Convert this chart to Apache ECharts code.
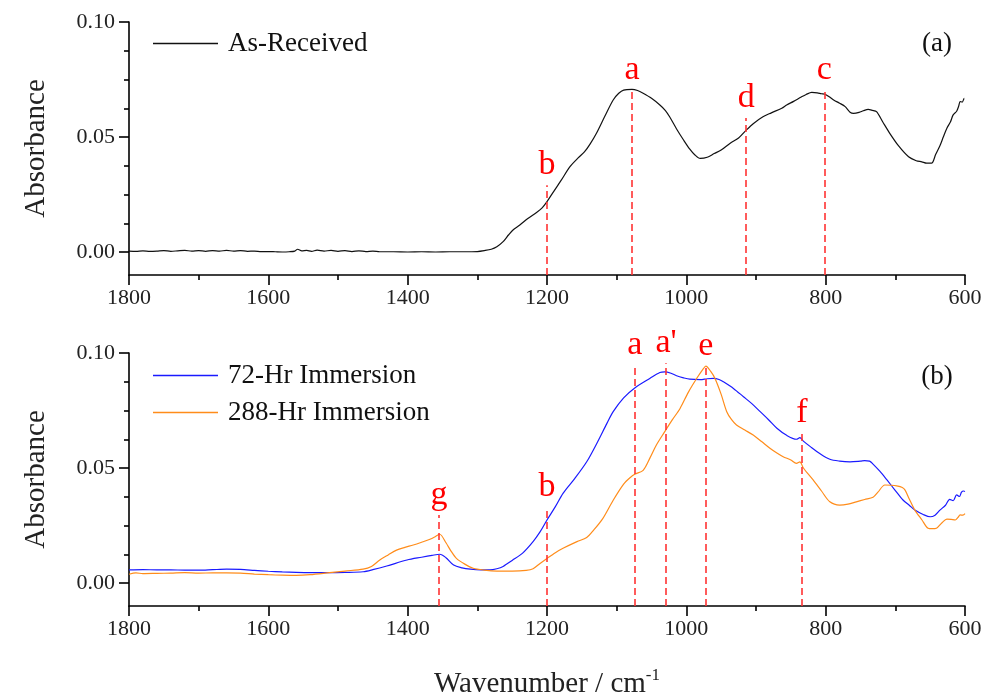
<!DOCTYPE html>
<html>
<head>
<meta charset="utf-8">
<script src="https://cdn.jsdelivr.net/npm/echarts@6/dist/echarts.min.js"></script>
<style>
html,body{margin:0;padding:0;background:#fff;}
#chart{width:983px;height:696px;}
</style>
</head>
<body>
<div id="chart"></div>
<script>
// ---------- DATA ----------
const xTicks = [1800, 1600, 1400, 1200, 1000, 800, 600];
const yTickLabels = [0.00, 0.05, 0.10];
const yMinorTicks = [0.0125, 0.025, 0.0375, 0.0625, 0.075, 0.0875];

const asReceived = [
[1800,0.0004],[1790,0.0003],[1780,0.0005],[1770,0.0003],[1760,0.0004],[1750,0.0006],[1740,0.0003],[1730,0.0005],[1720,0.0007],[1710,0.0004],[1700,0.0006],[1690,0.0003],[1680,0.0006],[1670,0.0004],[1660,0.0007],[1650,0.0004],[1640,0.0006],[1630,0.0003],[1620,0.0004],[1610,0.0002],[1600,0.0002],[1590,0.0001],[1580,0.0000],[1570,0.0001],[1562,0.0004],[1558,0.0012],[1552,0.0005],[1545,0.0007],[1538,0.0003],[1530,0.0008],[1520,0.0004],[1510,0.0007],[1500,0.0003],[1490,0.0006],[1480,0.0002],[1470,0.0005],[1460,0.0002],[1450,0.0004],[1440,0.0001],[1420,0.0001],[1400,0.0000],[1380,0.0001],[1360,0.0000],[1340,0.0001],[1320,0.0001],[1300,0.0002],[1290,0.0006],[1280,0.0012],[1272,0.0023],[1263,0.0045],[1255,0.0075],[1248,0.0098],[1239,0.0117],[1228,0.0145],[1215,0.0172],[1207,0.0192],[1200,0.0219],[1190,0.0265],[1180,0.031],[1167,0.0371],[1155,0.041],[1146,0.0436],[1138,0.047],[1129,0.0516],[1117,0.059],[1105,0.0661],[1097,0.069],[1090,0.0704],[1078,0.0707],[1070,0.0702],[1062,0.069],[1050,0.0668],[1038,0.0639],[1030,0.0615],[1024,0.0588],[1014,0.0535],[1004,0.0487],[995,0.0447],[988,0.0423],[980,0.0407],[970,0.0412],[960,0.0428],[950,0.0443],[937,0.0473],[925,0.0496],[914,0.053],[904,0.0558],[890,0.0588],[878,0.0605],[863,0.0625],[856,0.0639],[846,0.0655],[835,0.0674],[828,0.0685],[820,0.0694],[812,0.0692],[806,0.0688],[801,0.0686],[795,0.0675],[788,0.066],[780,0.0647],[772,0.0632],[765,0.0608],[760,0.0603],[752,0.0607],[746,0.0614],[739,0.062],[733,0.0616],[727,0.061],[718,0.0565],[708,0.0516],[695,0.046],[681,0.0414],[670,0.0397],[662,0.0392],[655,0.0386],[648,0.0386],[642,0.0425],[636,0.0462],[631,0.0501],[626,0.0538],[621,0.0565],[617,0.0596],[612,0.0612],[609,0.0635],[607,0.0654],[604,0.0652],[601,0.0668],[600,0.0668]
];

const hr72 = [
[1800,0.0057],[1780,0.0058],[1760,0.0057],[1740,0.0057],[1720,0.0056],[1700,0.0056],[1680,0.0058],[1660,0.006],[1640,0.0059],[1620,0.0055],[1600,0.0051],[1580,0.0048],[1560,0.0046],[1540,0.0045],[1512,0.0045],[1490,0.0046],[1464,0.0049],[1450,0.0058],[1430,0.0074],[1401,0.01],[1380,0.0112],[1365,0.012],[1354,0.0125],[1345,0.011],[1334,0.0078],[1322,0.0066],[1310,0.006],[1295,0.0057],[1282,0.0057],[1272,0.0062],[1263,0.0072],[1250,0.0098],[1235,0.013],[1220,0.018],[1210,0.0222],[1200,0.0274],[1188,0.0332],[1177,0.039],[1160,0.0455],[1143,0.0527],[1128,0.061],[1114,0.0694],[1105,0.0745],[1090,0.0805],[1074,0.0848],[1052,0.089],[1038,0.0915],[1031,0.0918],[1022,0.0912],[1014,0.0901],[1004,0.0892],[995,0.0886],[980,0.0884],[970,0.0888],[961,0.089],[953,0.0885],[947,0.0875],[932,0.0845],[918,0.081],[906,0.078],[894,0.0745],[882,0.071],[870,0.0673],[856,0.0642],[842,0.0625],[837,0.0632],[832,0.0617],[822,0.0593],[808,0.0562],[794,0.0538],[780,0.053],[765,0.0527],[750,0.053],[744,0.0532],[737,0.053],[732,0.0517],[722,0.0485],[712,0.0448],[700,0.0402],[689,0.0361],[680,0.0338],[672,0.0317],[660,0.0298],[650,0.0288],[643,0.0295],[636,0.0317],[628,0.0338],[622,0.0364],[617,0.0358],[612,0.0383],[608,0.0376],[605,0.0395],[602,0.04],[600,0.0398]
];

const hr288 = [
[1800,0.0038],[1790,0.0044],[1780,0.0041],[1760,0.0042],[1740,0.0043],[1720,0.0045],[1700,0.0043],[1680,0.0044],[1660,0.0044],[1640,0.0043],[1620,0.0039],[1600,0.0036],[1580,0.0034],[1560,0.0033],[1540,0.0036],[1512,0.0045],[1490,0.0052],[1464,0.006],[1452,0.0072],[1440,0.01],[1428,0.0122],[1416,0.0143],[1404,0.0155],[1392,0.0165],[1380,0.0177],[1368,0.019],[1360,0.0202],[1354,0.0212],[1345,0.0175],[1338,0.014],[1330,0.0107],[1318,0.0082],[1306,0.0064],[1290,0.0056],[1272,0.0052],[1250,0.0052],[1230,0.0055],[1220,0.0062],[1210,0.0085],[1200,0.0107],[1188,0.0132],[1177,0.0151],[1157,0.018],[1143,0.0198],[1133,0.023],[1120,0.028],[1105,0.036],[1090,0.043],[1080,0.046],[1074,0.0473],[1062,0.049],[1052,0.0545],[1043,0.06],[1031,0.0658],[1020,0.071],[1009,0.0759],[997,0.083],[985,0.089],[976,0.093],[972,0.0943],[965,0.092],[959,0.089],[950,0.082],[942,0.0745],[935,0.071],[928,0.0687],[916,0.0665],[904,0.0643],[892,0.0615],[880,0.0586],[870,0.0565],[861,0.0549],[850,0.0535],[842,0.052],[837,0.0527],[832,0.05],[818,0.0448],[806,0.04],[794,0.0353],[780,0.0339],[768,0.0343],[756,0.0353],[744,0.0363],[732,0.0373],[725,0.0395],[715,0.0426],[706,0.0425],[698,0.0422],[690,0.0415],[686,0.0404],[680,0.0365],[672,0.0317],[662,0.0275],[653,0.0238],[647,0.0236],[641,0.0238],[633,0.0262],[626,0.0278],[620,0.0277],[614,0.0274],[610,0.0285],[607,0.0296],[603,0.0295],[600,0.0302]
];

// marker lines: label, wavenumber, upper absorbance end
const markersA = [
  ['b', 1200, 0.029],
  ['a', 1078, 0.0705],
  ['d', 914, 0.0583],
  ['c', 802, 0.0705]
];
const markersB = [
  ['g', 1355, 0.0296],
  ['b', 1200, 0.033],
  ['a', 1074, 0.0948],
  ["a'", 1029, 0.0955],
  ['e', 972, 0.0945],
  ['f', 834, 0.0652]
];
const seriesNames = ['As-Received', '72-Hr Immersion', '288-Hr Immersion'];
const panelLabels = ['(a)', '(b)'];

// ---------- CHART ----------
const FONT = 'Liberation Serif';
const chart = echarts.init(document.getElementById('chart'), null, {renderer: 'canvas'});

function xAxisDef(idx, withName) {
  const ax = {
    type: 'value', gridIndex: idx, min: 600, max: 1800, interval: 200, inverse: true,
    axisLine: {show: true, onZero: false, lineStyle: {color: '#000', width: 1.6}},
    axisTick: {show: true, length: 10, lineStyle: {color: '#000', width: 1.6}},
    minorTick: {show: true, splitNumber: 2, length: 5, lineStyle: {color: '#000', width: 1.6}},
    splitLine: {show: false}, minorSplitLine: {show: false},
    axisLabel: {fontFamily: FONT, fontSize: 22, color: '#222', margin: 12,
      customValues: xTicks, formatter: v => String(v)}
  };
  if (withName) {
    ax.name = '{w|Wavenumber / cm}{s|-1}';
    ax.nameLocation = 'middle';
    ax.nameGap = 61;
    ax.nameTextStyle = {
      rich: {
        w: {fontFamily: FONT, fontSize: 29, color: '#222', lineHeight: 32, verticalAlign: 'bottom'},
        s: {fontFamily: FONT, fontSize: 17, color: '#222', lineHeight: 20, verticalAlign: 'top'}
      }
    };
  }
  return ax;
}
function yAxisMain(idx) {
  return {
    type: 'value', gridIndex: idx, min: -0.01, max: 0.10, position: 'left',
    name: 'Absorbance', nameLocation: 'middle', nameGap: 78,
    nameTextStyle: {fontFamily: FONT, fontSize: 29, color: '#222'},
    axisLine: {show: true, onZero: false, lineStyle: {color: '#000', width: 1.6}},
    axisTick: {show: true, length: 10, customValues: yTickLabels, lineStyle: {color: '#000', width: 1.6}},
    axisLabel: {fontFamily: FONT, fontSize: 22, color: '#222', margin: 14,
      customValues: yTickLabels, formatter: v => v.toFixed(2)},
    splitLine: {show: false}
  };
}
function yAxisMinor(idx) {
  return {
    type: 'value', gridIndex: idx, min: -0.01, max: 0.10, position: 'left',
    axisLine: {show: false},
    axisTick: {show: true, length: 5, customValues: yMinorTicks, lineStyle: {color: '#000', width: 1.6}},
    axisLabel: {show: false, customValues: yMinorTicks},
    splitLine: {show: false}
  };
}
function markLineFor(markers) {
  return {
    silent: true, symbol: ['none', 'none'], animation: false,
    lineStyle: {color: '#ff3333', type: [7, 4], width: 1.6},
    label: {show: true, position: 'end', distance: 3, formatter: p => p.name,
      color: '#ff0000', fontFamily: FONT, fontSize: 34},
    emphasis: {disabled: true},
    data: markers.map(m => [{name: m[0], coord: [m[1], -0.01]}, {coord: [m[1], m[2]]}])
  };
}
function legendDef(names, top) {
  return {
    data: names.map(n => ({name: n, icon: 'rect'})),
    orient: 'vertical', left: 148, top: top, itemWidth: 65, itemHeight: 1.3,
    itemGap: 10, selectedMode: false,
    textStyle: {fontFamily: FONT, fontSize: 27, color: '#111', lineHeight: 25, padding: [0, 0, 0, 5]}
  };
}

const option = {
  animation: false,
  backgroundColor: '#fff',
  grid: [
    {left: 129, right: 18, top: 22, height: 253, outerBoundsMode: 'none', containLabel: false},
    {left: 129, right: 18, top: 353, height: 253, outerBoundsMode: 'none', containLabel: false}
  ],
  xAxis: [xAxisDef(0, false), xAxisDef(1, true)],
  yAxis: [yAxisMain(0), yAxisMinor(0), yAxisMain(1), yAxisMinor(1)],
  legend: [legendDef([seriesNames[0]], 25), legendDef([seriesNames[1], seriesNames[2]], 357)],
  graphic: [
    {type: 'text', x: 937, y: 44, style: {text: panelLabels[0], fontFamily: FONT, fontSize: 27, fill: '#111', align: 'center', verticalAlign: 'middle'}},
    {type: 'text', x: 937, y: 377, style: {text: panelLabels[1], fontFamily: FONT, fontSize: 27, fill: '#111', align: 'center', verticalAlign: 'middle'}}
  ],
  series: [
    {name: seriesNames[0], type: 'line', xAxisIndex: 0, yAxisIndex: 0, data: asReceived,
      symbol: 'none', smooth: 0.3, lineStyle: {color: '#111', width: 1.2}, itemStyle: {color: '#111'},
      markLine: markLineFor(markersA), z: 3},
    {name: seriesNames[1], type: 'line', xAxisIndex: 1, yAxisIndex: 2, data: hr72,
      symbol: 'none', smooth: 0.3, lineStyle: {color: '#1a1aff', width: 1.2}, itemStyle: {color: '#1a1aff'},
      markLine: markLineFor(markersB), z: 3},
    {name: seriesNames[2], type: 'line', xAxisIndex: 1, yAxisIndex: 2, data: hr288,
      symbol: 'none', smooth: 0.3, lineStyle: {color: '#ff8c1a', width: 1.2}, itemStyle: {color: '#ff8c1a'}, z: 3}
  ]
};
chart.setOption(option);
</script>
</body>
</html>
